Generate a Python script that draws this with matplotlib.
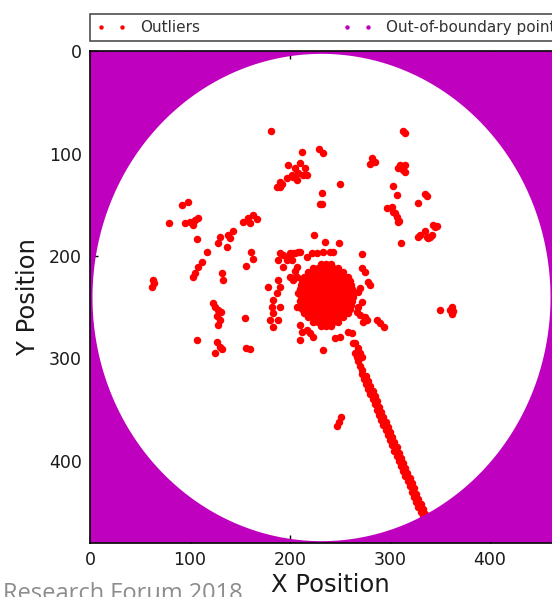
import numpy as np
import matplotlib
matplotlib.use('Agg')
import matplotlib.pyplot as plt
from matplotlib.lines import Line2D
from matplotlib.path import Path
from matplotlib.patches import PathPatch

# detector area and circular acceptance boundary (pixels)
frame_size = 480
boundary_center = (231.5, 240.5)
boundary_radius = (229.0, 238.0)

# scattered outlier clusters
scatter_x = [181, 212, 229, 233, 313, 315,
             198, 205, 210, 215, 213, 203, 197, 202, 208, 217, 207, 192, 190, 187, 190,
             282, 285, 280, 310, 315, 313, 308, 315, 250, 303, 232, 307, 230, 232,
             297, 302, 303, 305, 307, 308, 309, 328, 335, 337,
             328, 330, 335, 337, 338, 343, 345, 347, 342, 340, 311,
             350, 362, 363, 362, 360,
             92, 98, 79, 95, 100, 105, 108, 103, 153, 158, 163, 167, 160, 107,
             130, 128, 138, 143, 140, 137, 117, 112, 108, 105, 103, 161, 163, 156,
             132, 133, 63, 62, 64, 123, 125, 128, 127, 130, 128, 131, 155, 107,
             127, 130, 125, 132, 156, 160]
scatter_y = [78, 98, 95, 99, 78, 80,
             111, 114, 109, 114, 121, 123, 124, 121, 119, 121, 126, 130, 133, 133, 128,
             104, 108, 110, 111, 111, 116, 114, 118, 130, 132, 138, 140, 149, 149,
             153, 152, 157, 158, 162, 167, 166, 148, 139, 141,
             181, 179, 176, 181, 182, 170, 172, 171, 179, 181, 187,
             253, 250, 254, 257, 253,
             150, 147, 168, 168, 167, 165, 163, 170, 167, 163, 160, 164, 168, 183,
             181, 187, 179, 176, 182, 191, 196, 206, 211, 217, 220, 196, 203, 210,
             217, 223, 223, 230, 226, 246, 250, 253, 259, 262, 267, 255, 261, 282,
             284, 289, 295, 291, 290, 291]

# points scattered around the central blob
ring_x = [190, 197, 203, 208, 193, 188, 190, 187, 183, 182, 183, 180, 183, 190, 188,
          207, 208, 207, 202, 178, 188, 193, 200, 197,
          205, 210, 217, 222, 227, 233, 240, 243, 224, 235, 249, 272,
          207, 205, 200, 203, 202, 272, 275, 278, 280, 270, 268,
          272, 268, 267, 270, 275, 277, 273, 287, 290, 294,
          210, 212, 217, 220, 223, 210, 245, 250, 258, 262, 233,
          263, 265, 268, 270, 272, 247, 249, 251]
ring_y = [197, 201, 197, 196, 211, 223, 230, 236, 243, 250, 256, 262, 269, 250, 262,
          220, 236, 250, 221, 230, 204, 199, 197, 204,
          197, 196, 201, 197, 197, 196, 196, 196, 179, 186, 187, 198,
          211, 215, 220, 223, 204, 212, 216, 225, 228, 231, 235,
          245, 250, 255, 258, 260, 262, 264, 262, 265, 269,
          267, 274, 272, 275, 279, 282, 280, 279, 274, 275, 292,
          285, 285, 290, 295, 299, 366, 362, 357]

# dense central blob, read row by row
core_rows_y = [208, 212, 216, 220, 224, 228, 232, 236, 240, 244, 248, 252, 256, 260, 264, 268]
core_rows_x = [
    [231, 236, 241],
    [223, 228, 233, 238, 243, 248],
    [218, 223, 228, 233, 238, 243, 248, 253],
    [214, 219, 224, 229, 234, 239, 244, 249, 254, 258],
    [212, 217, 222, 227, 232, 237, 242, 247, 252, 257, 260],
    [211, 216, 221, 226, 231, 236, 241, 246, 251, 256, 261],
    [210, 215, 220, 225, 230, 235, 240, 245, 250, 255, 260, 262],
    [209, 214, 219, 224, 229, 234, 239, 244, 249, 254, 259, 263],
    [211, 216, 221, 226, 231, 236, 241, 246, 251, 256, 261, 263],
    [210, 215, 220, 225, 230, 235, 240, 245, 250, 255, 260, 262],
    [213, 218, 223, 228, 233, 238, 243, 248, 253, 258, 261],
    [212, 217, 222, 227, 232, 237, 242, 247, 252, 257, 260],
    [214, 219, 224, 229, 234, 239, 244, 249, 254, 258],
    [218, 223, 228, 233, 238, 243, 248, 253],
    [223, 228, 233, 238, 243, 248],
    [231, 236, 241],
]

# long streak towards the lower edge
streak_x = [264.5, 266.5, 268, 270, 271.5,
            271.5, 273.5, 275.5, 278, 280, 282.5, 284.5, 286.5, 289, 291, 293, 295.5,
            297.5, 300, 302, 304, 306.5, 308.5, 310.5, 313, 315, 317.5, 319.5, 321.5,
            324, 326, 328, 330.5, 332.5, 334.5,
            276, 278, 280, 282.5, 284.5, 286.5, 289, 291, 293, 295.5, 297.5, 300,
            302, 304, 306.5, 308.5, 310.5, 313, 315, 317, 319.5, 321.5, 324, 326,
            328, 330.5, 332.5, 334.5, 336.5, 338]
streak_y = [295, 299, 303, 307, 311,
            315, 320, 325, 330, 335, 340, 345, 350, 355, 360, 365, 370,
            375, 380, 385, 390, 395, 400, 405, 410, 415, 420, 425, 430,
            435, 440, 445, 450, 455, 460,
            317, 322, 327, 332, 337, 342, 347, 352, 357, 362, 367, 372,
            377, 382, 387, 392, 397, 402, 407, 412, 417, 422, 427, 432,
            437, 442, 447, 452, 456, 461]

core_x = [x for row in core_rows_x for x in row]
core_y = [y for y, row in zip(core_rows_y, core_rows_x) for _ in row]

out_x = scatter_x + ring_x + core_x + streak_x
out_y = scatter_y + ring_y + core_y + streak_y

text_col = '#1a1a1a'
plt.rcParams['font.family'] = ['DejaVu Sans']
plt.rcParams['xtick.direction'] = 'in'
plt.rcParams['ytick.direction'] = 'in'

fig = plt.figure(figsize=(5.52, 5.97), dpi=100)
ax = fig.add_axes([90 / 552, (597 - 542.7) / 597, 480 / 552, 491.4 / 597])

ax.plot(out_x, out_y, 'o', color='red', markersize=5.4, markeredgewidth=0, zorder=2)

# out-of-boundary region: frame minus the acceptance ellipse
cx, cy = boundary_center
rx, ry = boundary_radius
t = np.linspace(0, 2 * np.pi, 400)
ell = np.column_stack([cx + rx * np.cos(t), cy + ry * np.sin(t)])[::-1]
frame = np.array([[0, 0], [frame_size, 0], [frame_size, frame_size], [0, frame_size], [0, 0]])
verts = np.vstack([frame, ell, ell[:1]])
codes = ([Path.MOVETO] + [Path.LINETO] * 3 + [Path.CLOSEPOLY] +
         [Path.MOVETO] + [Path.LINETO] * (len(ell) - 1) + [Path.CLOSEPOLY])
ax.add_patch(PathPatch(Path(verts, codes), facecolor='#bf00bf', edgecolor='none', zorder=3))

ax.set_xlim(0, frame_size)
ax.set_ylim(frame_size, 0)
ax.set_xticks([0, 100, 200, 300, 400])
ax.set_yticks([0, 100, 200, 300, 400])
ax.tick_params(top=True, right=True, length=6, width=1, labelsize=12.5,
               labelcolor=text_col, pad=6)
for s in ax.spines.values():
    s.set_linewidth(1.2)
    s.set_zorder(4)

ax.set_xlabel('X Position', fontsize=17.5, color=text_col, labelpad=3)
ax.set_ylabel('Y Position', fontsize=17.5, color=text_col, labelpad=6)

handles = [Line2D([], [], ls='', marker='o', color='red', markersize=3.2, markeredgewidth=0),
           Line2D([], [], ls='', marker='o', color='#bf00bf', markersize=3.2, markeredgewidth=0)]
leg = ax.legend(handles, ['Outliers', 'Out-of-boundary points'],
                bbox_to_anchor=(0., 1.02, 1., .102), loc=3, ncol=2, mode='expand',
                borderaxespad=0., numpoints=2, fontsize=11, fancybox=False,
                handlelength=2.0, handletextpad=0.9, borderpad=0.4)
leg.get_frame().set_edgecolor('#222222')
leg.get_frame().set_linewidth(1.2)
for txt in leg.get_texts():
    txt.set_color('#333333')

fig.text(3 / 552, -3 / 597, 'Research Forum 2018', fontsize=17, color='#8c8c8c',
         family='Open Sans', va='baseline', ha='left')

fig.savefig('out.png', dpi=100)
plt.close(fig)
